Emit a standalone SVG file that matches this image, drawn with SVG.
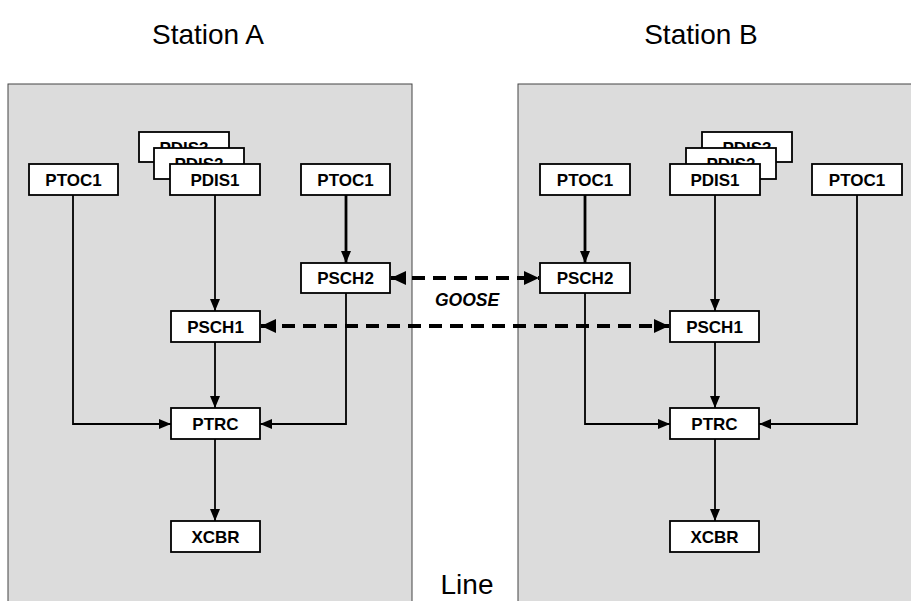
<svg xmlns="http://www.w3.org/2000/svg" width="911" height="601" viewBox="0 0 911 601">
<defs>
<style>
.panel{fill:#dcdcdc;stroke:#444;stroke-width:1}
.box{fill:#fff;stroke:#000;stroke-width:1.8}
.lbl{font-family:"Liberation Sans",Arial,sans-serif;font-weight:bold;font-size:17px;text-anchor:middle;fill:#000}
.title{font-family:"Liberation Sans",Arial,sans-serif;font-size:28px;text-anchor:middle;fill:#000}
.goose{font-family:"Liberation Sans",Arial,sans-serif;font-weight:bold;font-style:italic;font-size:17.5px;text-anchor:middle;fill:#000}
.ln{fill:none;stroke:#000;stroke-width:1.8}
.thick{fill:none;stroke:#000;stroke-width:2.8}
.dash{fill:none;stroke:#000;stroke-width:4;stroke-dasharray:13 8}
</style>
<marker id="arr" markerUnits="userSpaceOnUse" markerWidth="12" markerHeight="12" refX="12" refY="6" orient="auto" viewBox="0 0 12 12"><path d="M0,1 L12,6 L0,11 z" fill="#000"/></marker>
<marker id="darr" markerUnits="userSpaceOnUse" markerWidth="15" markerHeight="14" refX="15" refY="7" orient="auto-start-reverse" viewBox="0 0 15 14"><path d="M0,0 L15,7 L0,14 z" fill="#000"/></marker>
</defs>
<rect width="911" height="601" fill="#fff"/>
<g id="panels">
<rect class="panel" x="8" y="84" width="404" height="540"/>
<rect class="panel" x="518" y="84" width="404" height="540"/>
</g>
<g id="titles">
<text class="title" x="208" y="44">Station A</text>
<text class="title" x="701" y="44">Station B</text>
<text class="title" x="467" y="594">Line</text>
</g>
<g id="connectors">
<path class="ln" d="M73,195 V424 H171" marker-end="url(#arr)"/>
<path class="ln" d="M215,195 V311" marker-end="url(#arr)"/>
<path class="thick" d="M346,195 V263" marker-end="url(#arr)"/>
<path class="ln" d="M346,293 V424 H260" marker-end="url(#arr)"/>
<path class="ln" d="M215,342 V408" marker-end="url(#arr)"/>
<path class="ln" d="M215,439 V521" marker-end="url(#arr)"/>
<path class="thick" d="M585,195 V263" marker-end="url(#arr)"/>
<path class="ln" d="M715,195 V311" marker-end="url(#arr)"/>
<path class="ln" d="M857,195 V424 H759" marker-end="url(#arr)"/>
<path class="ln" d="M585,293 V424 H670" marker-end="url(#arr)"/>
<path class="ln" d="M715,342 V408" marker-end="url(#arr)"/>
<path class="ln" d="M715,439 V521" marker-end="url(#arr)"/>
<path class="dash" d="M391,278 H539" marker-start="url(#darr)" marker-end="url(#darr)"/>
<path class="dash" d="M261,326 H669" marker-start="url(#darr)" marker-end="url(#darr)"/>
<text class="goose" x="467" y="306">GOOSE</text>
</g>
<g id="a-ptoc1-left"><rect class="box" x="29" y="164" width="89" height="31"/><text class="lbl" x="73.5" y="186">PTOC1</text></g>
<g id="a-pdis3"><rect class="box" x="139" y="132" width="90" height="30"/><text class="lbl" x="184" y="154">PDIS3</text></g>
<g id="a-pdis2"><rect class="box" x="154" y="148" width="90" height="31"/><text class="lbl" x="199" y="170">PDIS2</text></g>
<g id="a-pdis1"><rect class="box" x="170" y="164" width="90" height="31"/><text class="lbl" x="215" y="186">PDIS1</text></g>
<g id="a-ptoc1-right"><rect class="box" x="301" y="164" width="89" height="31"/><text class="lbl" x="345.5" y="186">PTOC1</text></g>
<g id="a-psch2"><rect class="box" x="301" y="263" width="89" height="30"/><text class="lbl" x="345.5" y="284">PSCH2</text></g>
<g id="a-psch1"><rect class="box" x="171" y="311" width="89" height="31"/><text class="lbl" x="215.5" y="333">PSCH1</text></g>
<g id="a-ptrc"><rect class="box" x="171" y="408" width="89" height="31"/><text class="lbl" x="215.5" y="430">PTRC</text></g>
<g id="a-xcbr"><rect class="box" x="171" y="521" width="89" height="31"/><text class="lbl" x="215.5" y="543">XCBR</text></g>
<g id="b-ptoc1-left"><rect class="box" x="540" y="164" width="90" height="31"/><text class="lbl" x="585" y="186">PTOC1</text></g>
<g id="b-pdis3"><rect class="box" x="702" y="132" width="90" height="30"/><text class="lbl" x="747" y="154">PDIS3</text></g>
<g id="b-pdis2"><rect class="box" x="686" y="148" width="90" height="31"/><text class="lbl" x="731" y="170">PDIS2</text></g>
<g id="b-pdis1"><rect class="box" x="670" y="164" width="90" height="31"/><text class="lbl" x="715" y="186">PDIS1</text></g>
<g id="b-ptoc1-right"><rect class="box" x="812" y="164" width="90" height="31"/><text class="lbl" x="857" y="186">PTOC1</text></g>
<g id="b-psch2"><rect class="box" x="540" y="263" width="90" height="30"/><text class="lbl" x="585" y="284">PSCH2</text></g>
<g id="b-psch1"><rect class="box" x="670" y="311" width="89" height="31"/><text class="lbl" x="714.5" y="333">PSCH1</text></g>
<g id="b-ptrc"><rect class="box" x="670" y="408" width="89" height="31"/><text class="lbl" x="714.5" y="430">PTRC</text></g>
<g id="b-xcbr"><rect class="box" x="670" y="521" width="89" height="31"/><text class="lbl" x="714.5" y="543">XCBR</text></g>
</svg>
